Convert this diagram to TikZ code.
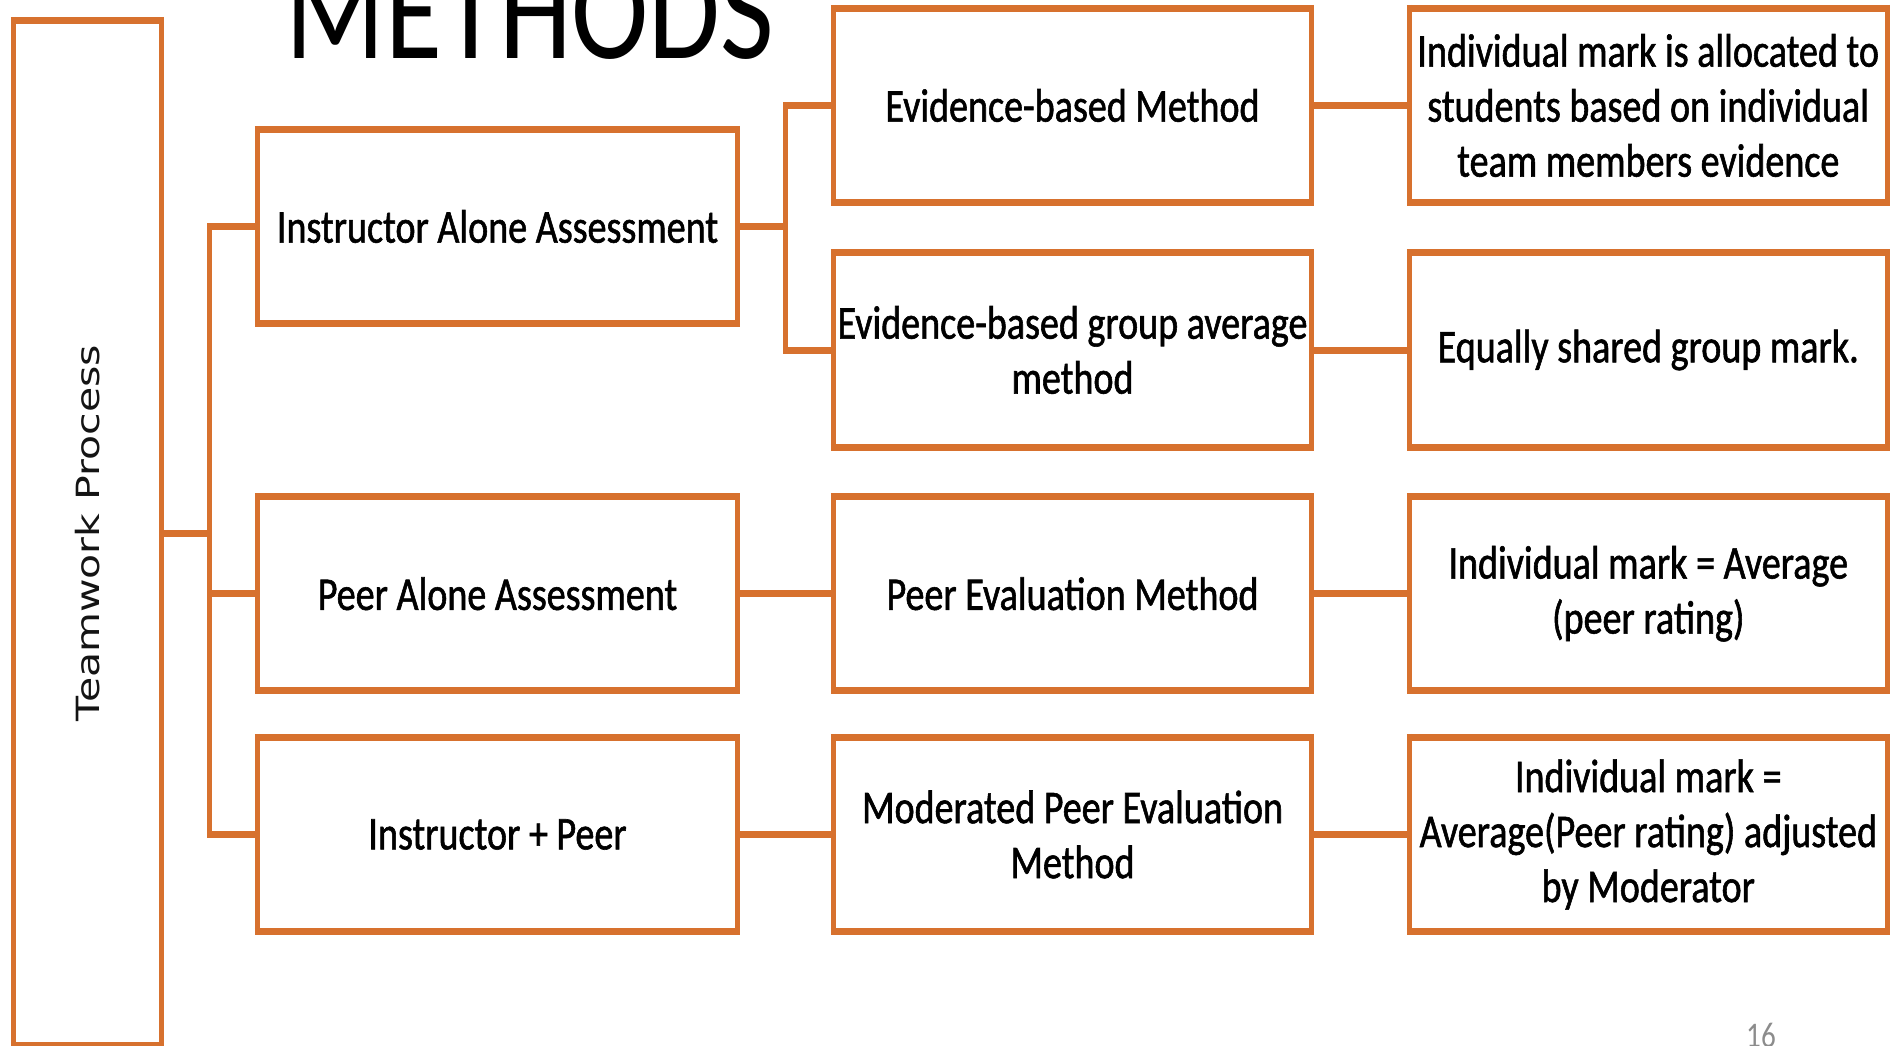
\documentclass[tikz,border=0pt]{standalone}
\usepackage{fontspec}
\usepackage{graphicx}
\setmainfont{Carlito}
\newfontfamily\boxfont[FakeStretch=0.81,FakeBold=1.2]{Carlito}
\newfontfamily\titlefont[FakeStretch=0.81]{Carlito}
\newfontfamily\sidefont{DejaVu Sans}
\definecolor{accent}{RGB}{215,113,46}
\definecolor{pagegrey}{RGB}{140,140,140}
\definecolor{ink}{RGB}{20,20,20}

\begin{document}
\begin{tikzpicture}[x=1pt,y=-1pt,
  box/.style={draw=none, fill=white, inner sep=0pt,
    minimum height=194pt, align=center, text=black,
    font=\boxfont\fontsize{47}{55}\selectfont},
  colA/.style={box, minimum width=480pt},
  colB/.style={box, minimum width=478pt},
  colC/.style={box, minimum width=477.5pt},
  hline/.style={draw=accent, line width=7pt},
  vline/.style={draw=accent, line width=5pt}]
\useasboundingbox (0,0) rectangle (1897,1045);

% heading and page number
\node[anchor=base, font=\titlefont\fontsize{144}{144}\selectfont] (title) at (530,58) {METHODS};
\node[anchor=base, text=pagegrey, font=\titlefont\fontsize{36}{36}\selectfont] (pageno) at (1761,1047) {16};

% root box
\node[box, minimum width=148pt, minimum height=1025pt,
      font=\sidefont\fontsize{41}{48}\selectfont, text=ink] (tp) at (87.5,533)
  {\rotatebox{90}{\scalebox{1}[0.78]{Teamwork Process}}};

% assessment types
\node[colA] (ia) at (497.5,226.5) {Instructor Alone Assessment};
\node[colA] (pa) at (497.5,593.75) {Peer Alone Assessment};
\node[colA] (ip) at (497.5,834.5) {Instructor + Peer};

% methods
\node[colB] (eb) at (1072.5,105.5) {Evidence-based Method};
\node[colB] (eg) at (1072.5,350)   {Evidence-based group average\\method};
\node[colB] (pe) at (1072.5,593.75) {Peer Evaluation Method};
\node[colB] (mp) at (1072.5,834.5) {Moderated Peer Evaluation\\Method};

% resulting marks
\node[colC] (r1) at (1648.25,105.5) {Individual mark is allocated to\\students based on individual\\team members evidence};
\node[colC] (r2) at (1648.25,350)   {Equally shared group mark.};
\node[colC] (r3) at (1648.25,593.75) {Individual mark = Average\\(peer rating)};
\node[colC] (r4) at (1648.25,834.5) {Individual mark =\\Average(Peer rating) adjusted\\by Moderator};

% box frames: heavier top and bottom edges than sides
\foreach \n in {tp,ia,pa,ip,eb,eg,pe,mp,r1,r2,r3,r4}{
  \draw[hline, shorten <=-2.5pt, shorten >=-2.5pt]
    (\n.north west) -- (\n.north east);
  \draw[hline, shorten <=-2.5pt, shorten >=-2.5pt]
    (\n.south west) -- (\n.south east);
  \draw[vline, shorten <=-3.5pt, shorten >=-3.5pt]
    (\n.north west) -- (\n.south west);
  \draw[vline, shorten <=-3.5pt, shorten >=-3.5pt]
    (\n.north east) -- (\n.south east);
}

% junction points of the forks
\coordinate (j1) at (209.5,533);
\coordinate (j2) at (785.5,226.5);

% root to assessment types
\draw[hline] (tp.east) -- (j1);
\draw[vline, shorten <=-3.5pt, shorten >=-3.5pt] (ia.west -| j1) -- (ip.west -| j1);
\draw[hline, shorten >=-2.5pt] (ia.west) -- (ia.west -| j1);
\draw[hline, shorten >=-2.5pt] (pa.west) -- (pa.west -| j1);
\draw[hline, shorten >=-2.5pt] (ip.west) -- (ip.west -| j1);

% instructor alone to its two methods
\draw[hline] (ia.east) -- (j2);
\draw[vline, shorten <=-3.5pt, shorten >=-3.5pt] (eb.west -| j2) -- (eg.west -| j2);
\draw[hline, shorten >=-2.5pt] (eb.west) -- (eb.west -| j2);
\draw[hline, shorten >=-2.5pt] (eg.west) -- (eg.west -| j2);

% other assessment types to methods
\draw[hline] (pa) -- (pe);
\draw[hline] (ip) -- (mp);

% methods to marks
\draw[hline] (eb) -- (r1);
\draw[hline] (eg) -- (r2);
\draw[hline] (pe) -- (r3);
\draw[hline] (mp) -- (r4);
\end{tikzpicture}
\end{document}
